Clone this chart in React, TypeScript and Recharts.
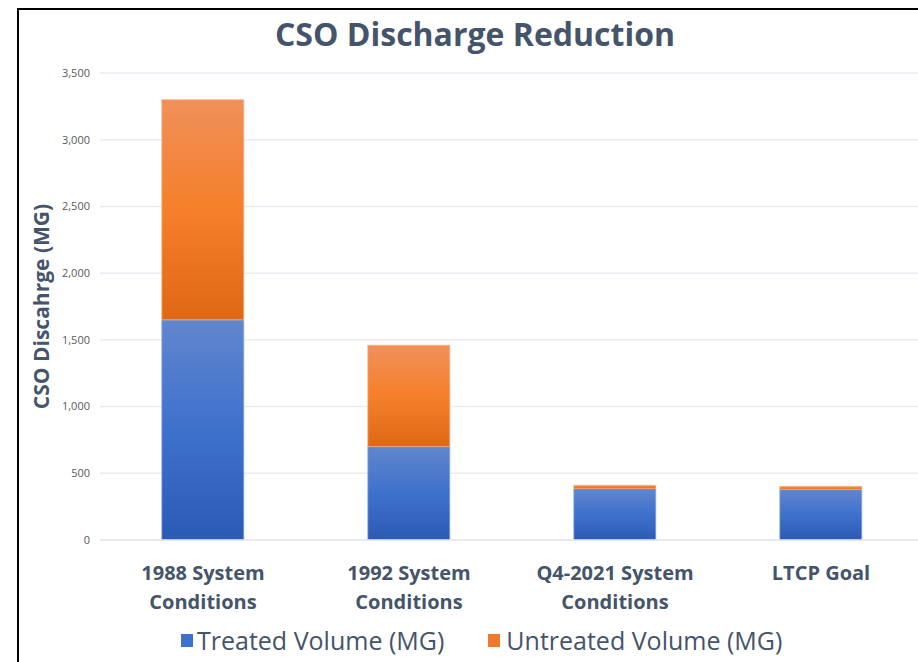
import React from "react"
import { BarChart, Bar, XAxis, YAxis, CartesianGrid } from "recharts"

const categories = ["1988 System\nConditions", "1992 System\nConditions", "Q4-2021 System\nConditions", "LTCP Goal"]
const treated = [1650, 700, 385, 380]
const untreated = [1650, 760, 25, 22]
const yTicks = [0, 500, 1000, 1500, 2000, 2500, 3000, 3500]

const data = categories.map((name, i) => ({ name, treated: treated[i], untreated: untreated[i] }))

const slate = "#44546A"

function XTick(props: any) {
  const { x, y, payload } = props
  const lines = String(payload.value).split("\n")
  return (
    <text x={x} y={y} textAnchor="middle" fill={slate} fontSize={20} fontWeight={700}>
      {lines.map((l, i) => (
        <tspan key={i} x={x} dy={i === 0 ? 32 : 29}>{l}</tspan>
      ))}
    </text>
  )
}

export default function App() {
  return (
    <div style={{ position: "absolute", left: 0, top: 0, width: 918, height: 662, overflow: "hidden", background: "#fff", fontFamily: '"Open Sans", sans-serif' }}>
      <div style={{ position: "absolute", left: 17, top: 8, right: -10, bottom: -10, borderLeft: "2px solid #000", borderTop: "2px solid #000" }} />
      <div style={{ position: "absolute", left: 18, width: 914, top: 12, textAlign: "center", fontSize: 32, fontWeight: 700, color: slate, lineHeight: "44px" }}>
        CSO Discharge Reduction
      </div>
      <div style={{ position: "absolute", left: 0, top: 0 }}>
        <BarChart width={930} height={662} data={data} margin={{ top: 73, right: 6, left: 0, bottom: 0 }} barCategoryGap="30%">
          <defs>
            <linearGradient id="gBlue" x1="0" y1="0" x2="0" y2="1">
              <stop offset="0%" stopColor="#6186CD" />
              <stop offset="50%" stopColor="#3E71CD" />
              <stop offset="100%" stopColor="#2B5AB5" />
            </linearGradient>
            <linearGradient id="gOrange" x1="0" y1="0" x2="0" y2="1">
              <stop offset="0%" stopColor="#F0905A" />
              <stop offset="50%" stopColor="#F57F2A" />
              <stop offset="100%" stopColor="#E06815" />
            </linearGradient>
          </defs>
          <CartesianGrid vertical={false} stroke="#E9ECF2" strokeWidth={1.5} />
          <XAxis dataKey="name" tick={<XTick />} tickLine={false} axisLine={{ stroke: "#E4E8EF", strokeWidth: 1.5 }} height={122} interval={0} />
          <YAxis
            width={100}
            domain={[0, 3500]}
            ticks={yTicks}
            tickFormatter={(v: number) => v.toLocaleString("en-US")}
            tick={{ fill: "#595959", fontSize: 11 }}
            tickLine={false}
            axisLine={false}
            tickMargin={4}
            label={{ value: "CSO Discahrge (MG)", angle: -90, position: "insideLeft", offset: 42, fill: slate, fontSize: 21, fontWeight: 700, style: { textAnchor: "middle" } }}
          />
          <Bar dataKey="treated" stackId="a" fill="url(#gBlue)" stroke="#8EA9DE" strokeOpacity={0.7} isAnimationActive={false} />
          <Bar dataKey="untreated" stackId="a" fill="url(#gOrange)" stroke="#F6B083" strokeOpacity={0.7} isAnimationActive={false} />
        </BarChart>
      </div>
      <div style={{ position: "absolute", left: 181, top: 623, display: "flex", alignItems: "center", fontSize: 25, color: slate, whiteSpace: "nowrap" }}>
        <span style={{ width: 12, height: 13, background: "#3E71CD", display: "inline-block", marginRight: 4 }} />
        <span>Treated Volume (MG)</span>
        <span style={{ width: 12, height: 13, background: "#F07A2A", display: "inline-block", marginLeft: 44, marginRight: 6 }} />
        <span>Untreated Volume (MG)</span>
      </div>
    </div>
  )
}
